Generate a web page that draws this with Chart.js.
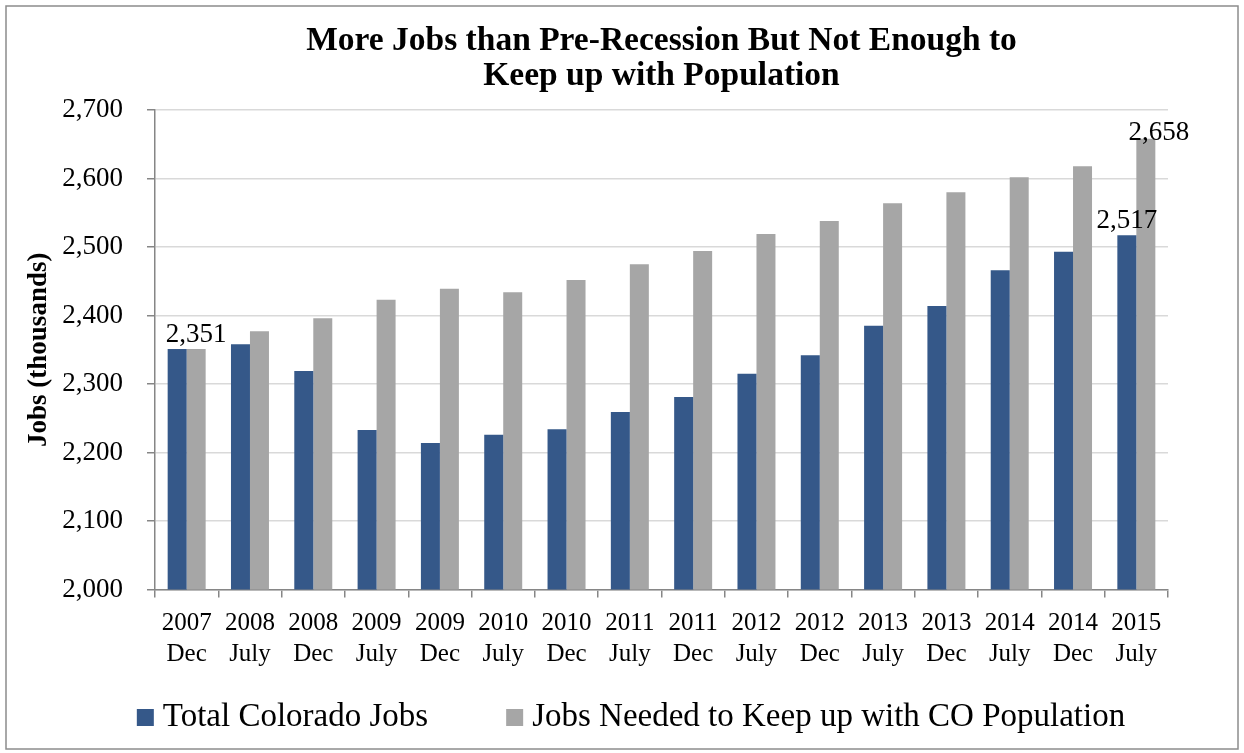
<!DOCTYPE html>
<html>
<head>
<meta charset="utf-8">
<script src="https://cdn.jsdelivr.net/npm/chart.js@4.4.1/dist/chart.umd.min.js"></script>
<style>
    html, body { margin: 0; padding: 0; background: #fff; }
    .chart-box { width: 1244px; height: 753px; }
</style>
</head>
<body>
<div class="chart-box">
    <canvas id="jobsChart"></canvas>
</div>

<script>
    const periods = [
        ['2007', 'Dec'], ['2008', 'July'], ['2008', 'Dec'], ['2009', 'July'],
        ['2009', 'Dec'], ['2010', 'July'], ['2010', 'Dec'], ['2011', 'July'],
        ['2011', 'Dec'], ['2012', 'July'], ['2012', 'Dec'], ['2013', 'July'],
        ['2013', 'Dec'], ['2014', 'July'], ['2014', 'Dec'], ['2015', 'July']
    ];
    const totalJobs = [2351, 2358, 2319, 2233, 2214, 2226, 2234, 2259, 2281, 2315, 2342, 2385, 2414, 2466, 2493, 2517];
    const neededJobs = [2351, 2377, 2396, 2423, 2439, 2434, 2452, 2475, 2494, 2519, 2538, 2564, 2580, 2602, 2618, 2658];
    const titleLines = ['More Jobs than Pre-Recession But Not Enough to', 'Keep up with Population'];
    // which bars carry a value label: [dataset, index]
    const labelledBars = [[1, 0], [0, 15], [1, 15]];

    const serif = "'Liberation Serif', 'DejaVu Serif', serif";
    const fmt = v => Number(v).toLocaleString('en-US');

    const framePlugin = {
        id: 'frame',
        beforeDraw(chart) {
            const ctx = chart.ctx;
            ctx.save();
            ctx.fillStyle = '#fff';
            ctx.fillRect(0, 0, chart.width, chart.height);
            ctx.strokeStyle = '#8c8c8c';
            ctx.lineWidth = 1.5;
            ctx.strokeRect(6, 6, chart.width - 12, chart.height - 10);
            ctx.restore();
        },
        afterDraw(chart) {
            const ctx = chart.ctx;
            const area = chart.chartArea;
            const cx = (area.left + area.right) / 2;
            ctx.save();
            // title
            ctx.fillStyle = '#000';
            ctx.textAlign = 'center';
            ctx.textBaseline = 'middle';
            ctx.font = 'bold 33.5px ' + serif;
            titleLines.forEach((line, i) => ctx.fillText(line, cx, 41 + i * 35));

            // value labels
            ctx.font = '27px ' + serif;
            ctx.textBaseline = 'alphabetic';
            labelledBars.forEach(([ds, idx]) => {
                const bar = chart.getDatasetMeta(ds).data[idx];
                const last = idx === periods.length - 1 && ds === 1;
                ctx.fillText(fmt(chart.data.datasets[ds].data[idx]), bar.x + (last ? 13 : 0), bar.y + (last ? 1 : -7));
            });

            // legend
            ctx.font = '33px ' + serif;
            ctx.textAlign = 'left';
            ctx.textBaseline = 'middle';
            const legendY = 717;
            const gap = 78;
            const items = chart.data.datasets.map(d => ({ text: d.label, color: d.backgroundColor, w: ctx.measureText(d.label).width }));
            const total = items.reduce((s, it) => s + 26 + it.w, 0) + gap * (items.length - 1);
            let x = chart.width / 2 - total / 2 + 9;
            items.forEach(it => {
                ctx.fillStyle = it.color;
                ctx.fillRect(x, legendY - 8, 17, 17);
                ctx.fillStyle = '#000';
                ctx.fillText(it.text, x + 26, legendY);
                x += 26 + it.w + gap;
            });
            ctx.restore();
        }
    };

    new Chart(document.getElementById('jobsChart').getContext('2d'), {
        type: 'bar',
        data: {
            labels: periods,
            datasets: [
                { label: 'Total Colorado Jobs', data: totalJobs, backgroundColor: '#355889' },
                { label: 'Jobs Needed to Keep up with CO Population', data: neededJobs, backgroundColor: '#a6a6a6' }
            ]
        },
        options: {
            responsive: true,
            maintainAspectRatio: false,
            animation: false,
            layout: {
                padding: { top: 110, left: 20, right: 76, bottom: 0 }
            },
            datasets: {
                bar: { categoryPercentage: 0.6, barPercentage: 1.0 }
            },
            scales: {
                x: {
                    afterFit: scale => { scale.height = 163.5; },
                    grid: {
                        drawOnChartArea: false,
                        tickLength: 8,
                        tickColor: '#868686',
                        lineWidth: 1.5
                    },
                    border: { color: '#868686', width: 1.5 },
                    ticks: {
                        color: '#000',
                        padding: 10,
                        maxRotation: 0,
                        autoSkip: false,
                        font: { family: serif, size: 25, lineHeight: 1.24 }
                    }
                },
                y: {
                    min: 2000,
                    max: 2700,
                    afterFit: scale => { scale.width = 135; },
                    grid: {
                        color: '#d9d9d9',
                        lineWidth: 1.5,
                        tickLength: 8,
                        tickColor: '#868686'
                    },
                    border: { color: '#868686', width: 1.5 },
                    ticks: {
                        stepSize: 100,
                        color: '#000',
                        padding: 24,
                        font: { family: serif, size: 27 },
                        callback: v => fmt(v)
                    },
                    title: {
                        display: true,
                        text: 'Jobs (thousands)',
                        color: '#000',
                        padding: { top: 3, bottom: 0 },
                        font: { family: serif, size: 27, weight: 'bold' }
                    }
                }
            },
            plugins: {
                legend: { display: false },
                title: { display: false },
                tooltip: { enabled: false }
            }
        },
        plugins: [framePlugin]
    });
</script>
</body>
</html>
